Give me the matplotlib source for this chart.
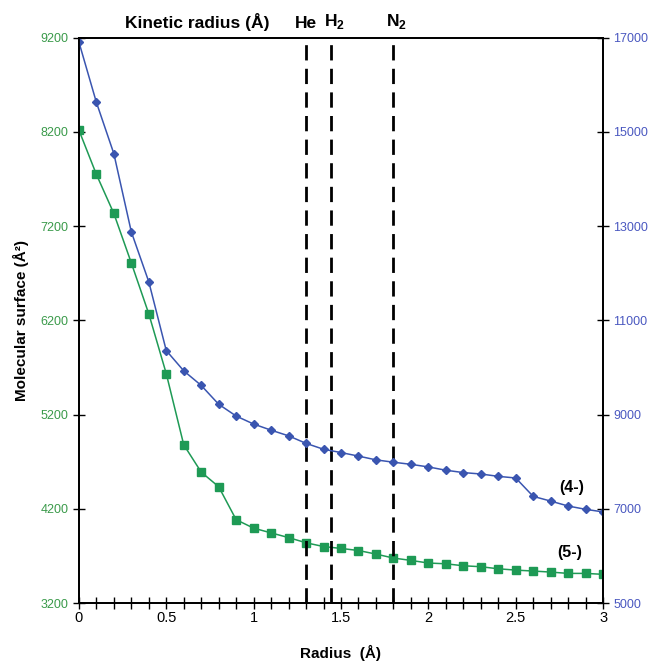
import numpy as np
import matplotlib
matplotlib.use('Agg')
import matplotlib.pyplot as plt
from matplotlib.ticker import MultipleLocator

plt.rcParams['font.family'] = ['Liberation Sans', 'DejaVu Sans']
plt.rcParams['mathtext.fontset'] = 'custom'
plt.rcParams['mathtext.rm'] = 'Liberation Sans'
plt.rcParams['mathtext.bf'] = 'Liberation Sans:bold'

# 데이터
radius = [0.0, 0.1, 0.2, 0.3, 0.4, 0.5, 0.6, 0.7, 0.8, 0.9, 1.0,
          1.1, 1.2, 1.3, 1.4, 1.5, 1.6, 1.7, 1.8, 1.9, 2.0,
          2.1, 2.2, 2.3, 2.4, 2.5, 2.6, 2.7, 2.8, 2.9, 3.0]
surf_4 = [16910, 15630, 14540, 12880, 11820, 10360, 9930, 9620, 9220, 8970, 8800,
          8670, 8550, 8390, 8265, 8195, 8120, 8040, 7990, 7945, 7890,
          7820, 7770, 7740, 7690, 7655, 7265, 7165, 7060, 6990, 6935]
surf_5 = [8220, 7750, 7335, 6810, 6270, 5635, 4880, 4590, 4435, 4085, 3995,
          3945, 3895, 3840, 3800, 3780, 3758, 3720, 3678, 3653, 3625,
          3617, 3596, 3586, 3564, 3550, 3540, 3529, 3515, 3515, 3505]
kinetic_r = [1.3, 1.445, 1.8]
kinetic_lbl = ['He', 'H$_\\mathbf{2}$', 'N$_\\mathbf{2}$']

green = '#1e9a55'
blue = '#3a55b0'
green_txt = '#3a9a4a'
blue_txt = '#4a58c0'

fig = plt.figure(figsize=(6.52, 6.62), dpi=100)
ax = fig.add_axes([0.121, 0.089, 0.804, 0.854])
ax2 = ax.twinx()

ax.plot(radius, surf_5, color=green, marker='s', markersize=5.5, lw=1.1)
ax2.plot(radius, surf_4, color=blue, marker='D', markersize=4.5, lw=1.1)

for r in kinetic_r:
    ax.axvline(r, color='black', lw=2, ls=(0, (5.5, 3)))

ax.set_xlim(0, 3)
ax.set_ylim(3200, 9200)
ax2.set_ylim(5000, 17000)
ax.set_yticks(np.arange(3200, 9201, 1000))
ax2.set_yticks(np.arange(5000, 17001, 2000))
ax.xaxis.set_minor_locator(MultipleLocator(0.1))
ax.set_xticks([0, 0.5, 1, 1.5, 2, 2.5, 3])
ax.set_xticklabels(['0', '0.5', '1', '1.5', '2', '2.5', '3'])

ax.tick_params(axis='x', which='both', direction='inout', length=8, width=1, labelsize=10.5, pad=2)
ax.tick_params(axis='y', direction='inout', length=8, width=1, labelsize=9, labelcolor=green_txt)
ax2.tick_params(axis='y', direction='inout', length=8, width=1, labelsize=9, labelcolor=blue_txt)

for a in (ax, ax2):
    for s in a.spines.values():
        s.set_linewidth(1.3)

ax.set_xlabel('Radius  (Å)', fontsize=11, fontweight='bold', labelpad=14)
ax.set_ylabel('Molecular surface (Å²)', fontsize=11, fontweight='bold', labelpad=8)

# 위쪽 라벨
ax.text(0.68, 1.012, 'Kinetic radius (Å)', transform=ax.get_xaxis_transform(),
        ha='center', va='bottom', fontsize=12.5, fontweight='bold')
for r, lbl in zip(kinetic_r, kinetic_lbl):
    ax.text(r + 0.02 * (r != 1.3), 1.012, lbl, transform=ax.get_xaxis_transform(),
            ha='center', va='bottom', fontsize=12.5, fontweight='bold')

ax2.text(2.82, 7460, '(4-)', ha='center', va='center', fontsize=11.5, fontweight='bold')
ax.text(2.81, 3735, '(5-)', ha='center', va='center', fontsize=11.5, fontweight='bold')

fig.savefig('out.png', dpi=100)
